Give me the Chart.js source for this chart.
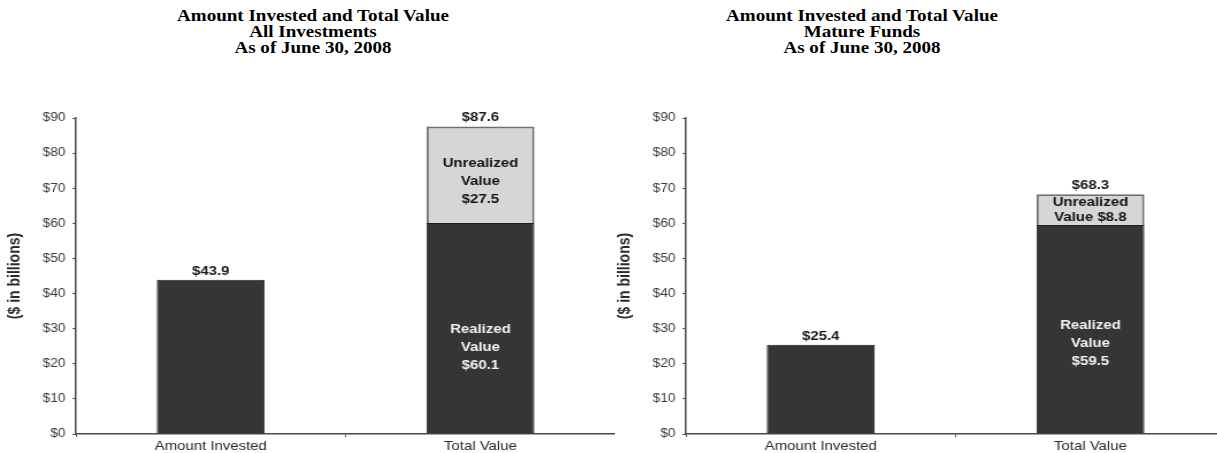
<!DOCTYPE html>
<html>
<head>
<meta charset="utf-8">
<script src="https://cdn.jsdelivr.net/npm/chart.js@4.4.0/dist/chart.umd.min.js"></script>
<style>
  html, body { margin: 0; padding: 0; background: #fff; overflow: hidden; }
  body { width: 1217px; height: 453px; position: relative; }
  .title {
    position: absolute; top: 8px; width: 400px; text-align: center;
    font: bold 17px "Liberation Serif", "Times New Roman", serif; line-height: 16px;
    color: #000; transform: scaleX(1.12);
  }
  .box {
    position: absolute; top: 0; width: 535px; height: 453px;
    transform: scaleX(1.15); transform-origin: 0 0;
  }
</style>
</head>
<body>
<div class="title" style="left:113px">Amount Invested and Total Value<br>All Investments<br>As of June 30, 2008</div>
<div class="title" style="left:662px">Amount Invested and Total Value<br>Mature Funds<br>As of June 30, 2008</div>
<div class="box" style="left:0"><canvas id="allChart"></canvas></div>
<div class="box" style="left:610px"><canvas id="matureChart"></canvas></div>
<script>
// data ($ billions)
const categories = ['Amount Invested', 'Total Value'];
// all investments: invested amount, then realized part of total value
const allBase = [43.9, 60.1];
const allUnrealized = [0, 27.5];
// mature funds
const matureBase = [25.4, 59.5];
const matureUnrealized = [0, 8.8];
// y axis
const yMin = 0, yMax = 90, yStep = 10;

const FONT = '"Liberation Sans", Arial, sans-serif';
const money = v => '$' + v.toFixed(1);

// totals above the bars, texts inside the segments
const barLabels = {
  id: 'barLabels',
  afterDatasetsDraw(chart, args, opts) {
    const ctx = chart.ctx;
    ctx.save();
    ctx.textAlign = 'center';
    chart.data.labels.forEach((lab, i) => {
      let top = Infinity, total = 0, x = 0;
      chart.data.datasets.forEach((ds, d) => {
        const v = ds.data[i];
        if (!v) return;
        total += v;
        const el = chart.getDatasetMeta(d).data[i];
        x = el.x;
        top = Math.min(top, el.y);
      });
      ctx.font = 'bold 13px ' + FONT;
      ctx.fillStyle = '#1a1a1a';
      ctx.textBaseline = 'alphabetic';
      ctx.fillText(money(total), x, top - 5);
    });
    opts.inside.forEach(item => {
      const el = chart.getDatasetMeta(item.dataset).data[item.index];
      const cy = (el.y + el.base) / 2 + item.shift;
      ctx.font = 'bold 13px ' + FONT;
      ctx.fillStyle = item.color;
      ctx.textBaseline = 'middle';
      const n = item.lines.length;
      item.lines.forEach((t, k) => {
        ctx.fillText(t, el.x, cy + (k - (n - 1) / 2) * item.lh);
      });
    });
    ctx.restore();
  }
};

let makeChart = (id, base, unrealized, inside) => {
  const ctx = document.getElementById(id);
  return new Chart(ctx, {
    type: 'bar',
    data: {
      labels: categories,
      datasets: [{
        label: 'Invested / Realized',
        data: base,
        backgroundColor: '#353535',
        borderColor: '#1e1e1e',
        borderWidth: 1,
        borderSkipped: 'start'
      }, {
        label: 'Unrealized',
        data: unrealized,
        backgroundColor: '#d6d6d6',
        borderColor: '#6e6e6e',
        borderWidth: 2,
        borderSkipped: 'start'
      }]
    },
    options: {
      responsive: true,
      maintainAspectRatio: false,
      animation: false,
      layout: { padding: { top: 118, bottom: 0, left: 0, right: 0 } },
      datasets: { bar: { categoryPercentage: 1, barPercentage: 0.40 } },
      plugins: {
        legend: { display: false },
        tooltip: { enabled: false },
        barLabels: { inside: inside }
      },
      scales: {
        x: {
          stacked: true,
          afterFit: (s) => { s.height = 19; },
          grid: { drawOnChartArea: false, tickLength: 3, tickColor: '#555', offset: true },
          border: { color: '#4a4a4a', width: 1.5 },
          ticks: { color: '#2a2a2a', padding: 2, font: { family: FONT, size: 13 } }
        },
        y: {
          stacked: true,
          min: yMin,
          max: yMax,
          afterFit: (s) => { s.width = 66; },
          grid: { drawOnChartArea: false, tickLength: 3, tickColor: '#555' },
          border: { color: '#4a4a4a', width: 1.5 },
          ticks: {
            stepSize: yStep,
            color: '#3a3a3a',
            padding: 6,
            font: { family: FONT, size: 12 },
            callback: (v) => '$' + v
          },
          title: {
            display: true,
            text: '($ in billions)',
            color: '#2a2a2a',
            padding: { top: 5, bottom: 0 },
            font: { family: FONT, size: 14, weight: 'bold' }
          }
        }
      }
    },
    plugins: [barLabels]
  });
};

makeChart('allChart', allBase, allUnrealized, [
  { dataset: 1, index: 1, lines: ['Unrealized', 'Value', money(allUnrealized[1])], color: '#151515', lh: 18, shift: 7 },
  { dataset: 0, index: 1, lines: ['Realized', 'Value', money(allBase[1])], color: '#f2f2f2', lh: 18, shift: 19 }
]);

makeChart('matureChart', matureBase, matureUnrealized, [
  { dataset: 1, index: 1, lines: ['Unrealized', 'Value ' + money(matureUnrealized[1])], color: '#151515', lh: 15, shift: 0 },
  { dataset: 0, index: 1, lines: ['Realized', 'Value', money(matureBase[1])], color: '#f2f2f2', lh: 18, shift: 14 }
]);
</script>
</body>
</html>
